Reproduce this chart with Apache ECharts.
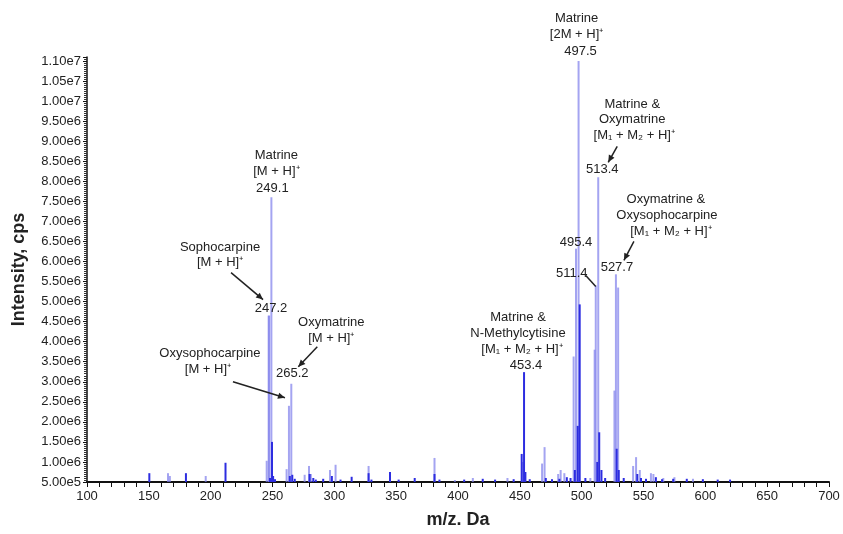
<!DOCTYPE html>
<html>
<head>
<meta charset="utf-8">
<script src="https://cdn.jsdelivr.net/npm/echarts@6/dist/echarts.min.js"></script>
<style>
html,body{margin:0;padding:0;background:#fff;}
#chart{width:843px;height:534px;}
</style>
</head>
<body>
<div id="chart"></div>
<script>
// ---- data (m/z, intensity in cps) ----
const lightMz = [165.5, 167, 196, 245.3, 246.9, 247.3, 249.1, 261.4, 263.3, 265.2, 276, 279.5, 281, 296.5, 301, 327.7, 381, 397.5, 412, 440, 452.5, 468, 470, 481, 483, 486, 493.5, 495.4, 497.5, 507, 510.5, 511.4, 513.4, 526.5, 527.7, 529.5, 541.6, 544, 547, 556, 558, 566, 575, 590];
const lightIntensity = [0.72e6, 0.65e6, 0.65e6, 1.03e6, 4.65e6, 4.65e6, 7.6e6, 0.82e6, 2.4e6, 2.95e6, 0.68e6, 0.9e6, 0.7e6, 0.8e6, 0.93e6, 0.9e6, 1.1e6, 0.55e6, 0.6e6, 0.6e6, 1.0e6, 0.96e6, 1.37e6, 0.7e6, 0.8e6, 0.72e6, 3.63e6, 6.32e6, 1.10e7, 0.6e6, 3.8e6, 5.4e6, 8.1e6, 2.78e6, 5.68e6, 5.35e6, 0.9e6, 1.12e6, 0.8e6, 0.72e6, 0.7e6, 0.6e6, 0.62e6, 0.58e6];
const darkMz = [150.4, 180, 212, 248, 249.6, 250.5, 252, 264, 266, 268, 280, 283, 285, 291, 298, 305, 314, 327.7, 330, 345, 352, 365, 381, 385, 405, 420, 430, 445, 451.5, 453.4, 454.5, 458, 471, 476, 482, 488, 491, 494.5, 496.8, 498.4, 503, 512.6, 514.2, 516, 519, 528.3, 530, 534, 545, 548, 552, 560, 565, 574, 585, 598, 610, 620];
const darkIntensity = [0.72e6, 0.72e6, 0.98e6, 0.6e6, 1.5e6, 0.65e6, 0.57e6, 0.65e6, 0.68e6, 0.58e6, 0.7e6, 0.6e6, 0.56e6, 0.58e6, 0.65e6, 0.56e6, 0.63e6, 0.72e6, 0.56e6, 0.75e6, 0.56e6, 0.6e6, 0.7e6, 0.56e6, 0.56e6, 0.58e6, 0.56e6, 0.57e6, 1.2e6, 3.24e6, 0.75e6, 0.57e6, 0.6e6, 0.57e6, 0.58e6, 0.62e6, 0.6e6, 0.8e6, 1.9e6, 4.93e6, 0.6e6, 1.0e6, 1.74e6, 0.8e6, 0.6e6, 1.33e6, 0.8e6, 0.6e6, 0.7e6, 0.6e6, 0.58e6, 0.62e6, 0.57e6, 0.58e6, 0.58e6, 0.57e6, 0.56e6, 0.56e6];

// annotation texts and the peaks they point at
const annoPeaks = [[249.1, 7.6e6], [247.2, 4.65e6], [265.2, 2.95e6], [263.3, 2.4e6], [453.4, 3.24e6], [497.5, 1.10e7], [513.4, 8.1e6], [527.7, 5.68e6], [495.4, 6.32e6], [511.4, 5.4e6]];
const annoTexts = [
  ['Matrine', '[M + H]⁺', '249.1'],
  ['Sophocarpine', '[M + H]⁺', '247.2'],
  ['Oxymatrine', '[M + H]⁺', '265.2'],
  ['Oxysophocarpine', '[M + H]⁺'],
  ['Matrine &', 'N-Methylcytisine', '[M₁ + M₂ + H]⁺', '453.4'],
  ['Matrine', '[2M + H]⁺', '497.5'],
  ['Matrine &', 'Oxymatrine', '[M₁ + M₂ + H]⁺', '513.4'],
  ['Oxymatrine &', 'Oxysophocarpine', '[M₁ + M₂ + H]⁺', '527.7'],
  ['495.4'],
  ['511.4']
];

// ---- layout of annotations (pixel offsets from the peak top) ----
const annoLayout = [
  {t: [[5, -42], [5, -26], [1, -9]]},
  {t: [[-49, -68], [-49, -53], [2, -7]], arrow: [-38, -43, -6, -16]},
  {t: [[40, -61], [40, -45], [1, -10]], arrow: [26, -37, 7, -17]},
  {t: [[-79, -52], [-81, -36]], arrow: [-56, -24, -4, -8]},
  {t: [[-6, -55], [-6, -39], [-2, -23], [2, -7]]},
  {t: [[-2, -43], [-2, -27], [2, -10]]},
  {t: [[34, -73], [34, -58], [36, -42], [4, -8]], arrow: [19, -31, 10, -15]},
  {t: [[50, -75], [51, -59], [55, -43], [1, -7]], arrow: [18, -33, 8, -14]},
  {t: [[0, -6]]},
  {t: [[-24, -12]], line: [-10, -10, 0, 1]}
];

const FONT = '"Liberation Sans", Arial, sans-serif';
const chart = echarts.init(document.getElementById('chart'), null, {renderer: 'canvas'});

function fmtY(v) {
  const r = v / 5e5;
  if (Math.abs(r - Math.round(r)) > 1e-6) return '';
  return v.toExponential(2).replace('e+', 'e');
}

const option = {
  animation: false,
  backgroundColor: '#fff',
  grid: {left: 87, right: 14, top: 57, bottom: 51, containLabel: false},
  xAxis: {
    type: 'value', min: 100, max: 700, interval: 10,
    name: 'm/z. Da', nameLocation: 'middle', nameGap: 29,
    nameTextStyle: {fontFamily: FONT, fontSize: 18, fontWeight: 'bold', color: '#222'},
    axisLine: {show: true, lineStyle: {color: '#111', width: 2}},
    axisTick: {show: true, inside: false, length: 5, lineStyle: {color: '#111', width: 1}},
    axisLabel: {
      fontFamily: FONT, fontSize: 13, color: '#222', margin: 8,
      showMinLabel: true, showMaxLabel: true,
      formatter: v => (v % 50 === 0 ? String(v) : '')
    },
    splitLine: {show: false}
  },
  yAxis: {
    type: 'value', min: 5e5, max: 1.11e7, interval: 5e5,
    name: 'Intensity, cps', nameLocation: 'middle', nameGap: 59, nameRotate: 90,
    nameTextStyle: {fontFamily: FONT, fontSize: 18, fontWeight: 'bold', color: '#222'},
    axisLine: {show: true, lineStyle: {color: '#111', width: 1.5}},
    axisTick: {show: true, inside: false, length: 4, lineStyle: {color: '#111', width: 1}},
    minorTick: {show: true, splitNumber: 10, length: 3, lineStyle: {color: '#333', width: 1}},
    axisLabel: {fontFamily: FONT, fontSize: 13, color: '#222', margin: 6, formatter: fmtY},
    splitLine: {show: false}
  },
  series: [
    {
      type: 'bar', name: 'light', barWidth: 2, barGap: '-100%',
      itemStyle: {color: 'rgba(125,125,235,0.7)'},
      data: lightMz.map((m, i) => [m, lightIntensity[i]]),
      z: 2
    },
    {
      type: 'bar', name: 'dark', barWidth: 2, barGap: '-100%',
      itemStyle: {color: '#2d2de0'},
      data: darkMz.map((m, i) => [m, darkIntensity[i]]),
      z: 3
    }
  ]
};
chart.setOption(option);

// ---- annotations anchored to data coordinates ----
const graphics = [];
function arrowHead(x1, y1, x2, y2) {
  const dx = x2 - x1, dy = y2 - y1, L = Math.hypot(dx, dy);
  const ux = dx / L, uy = dy / L, hl = 7, hw = 3.2;
  const bx = x2 - ux * hl, by = y2 - uy * hl;
  return [[x2, y2], [bx - uy * hw, by + ux * hw], [bx + uy * hw, by - ux * hw]];
}
annoPeaks.forEach((p, i) => {
  const [px, py] = chart.convertToPixel({gridIndex: 0}, p);
  const lay = annoLayout[i];
  annoTexts[i].forEach((txt, j) => {
    const o = lay.t[j];
    graphics.push({
      type: 'text', x: px + o[0], y: py + o[1], z: 10,
      style: {text: txt, font: '13px ' + FONT, fill: '#222',
        align: 'center', verticalAlign: 'middle', textAlign: 'center', textVerticalAlign: 'middle'}
    });
  });
  const a = lay.arrow || lay.line;
  if (a) {
    const x1 = px + a[0], y1 = py + a[1], x2 = px + a[2], y2 = py + a[3];
    graphics.push({type: 'line', z: 10, shape: {x1, y1, x2, y2}, style: {stroke: '#222', lineWidth: 1.5}});
    if (lay.arrow) {
      graphics.push({type: 'polygon', z: 10, shape: {points: arrowHead(x1, y1, x2, y2)}, style: {fill: '#222'}});
    }
  }
});
chart.setOption({graphic: graphics});
</script>
</body>
</html>
